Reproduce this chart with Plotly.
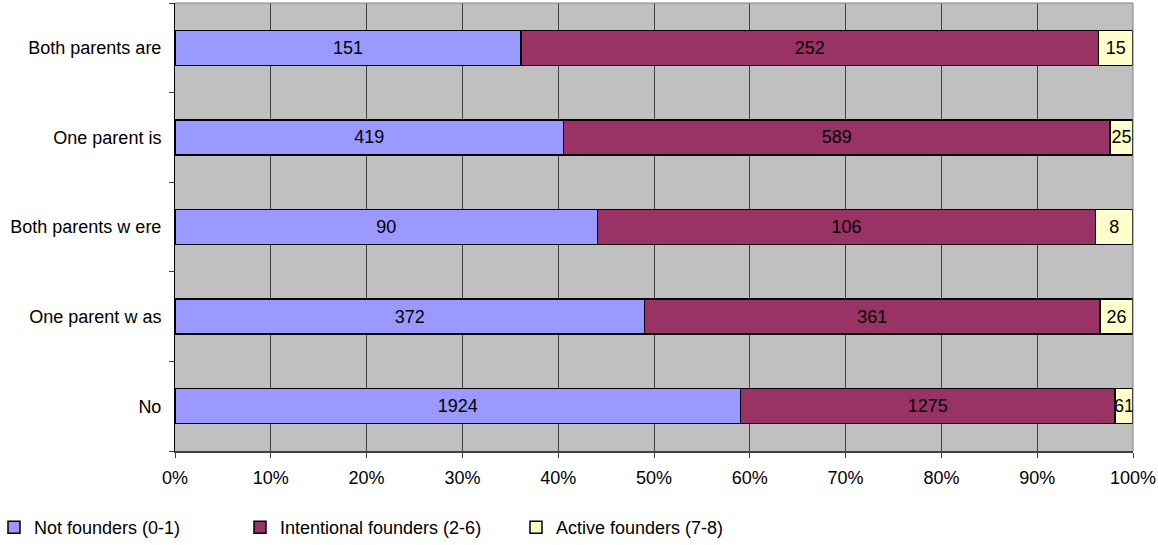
import plotly.graph_objects as go

# Parental founder status (bottom to top) and respondent counts per founder group
categories = ["No", "One parent w as", "Both parents w ere", "One parent is", "Both parents are"]
not_founders = [1924, 372, 90, 419, 151]
intentional_founders = [1275, 361, 106, 589, 252]
active_founders = [61, 26, 8, 25, 15]

series = [
    ("Not founders (0-1)", not_founders, "#9999FF"),
    ("Intentional founders (2-6)", intentional_founders, "#993366"),
    ("Active founders (7-8)", active_founders, "#FFFFCC"),
]

x_ticks = list(range(0, 101, 10))
x_tick_labels = [f"{v}%" for v in x_ticks]

font_family = "Liberation Sans, Arial, sans-serif"
FS = 18

# plot area spans pixels 175..1133 horizontally and 3..451 vertically
plot_left, plot_width = 175, 958
plot_bottom, plot_height = 451, 448
legend_px = [-6, 240, 516]
legend_top_px = 509
legend_names = ["legend", "legend2", "legend3"]

fig = go.Figure()
for (name, values, color), lg in zip(series, legend_names):
    fig.add_trace(go.Bar(
        name=name,
        y=categories,
        x=values,
        orientation="h",
        marker=dict(color=color, line=dict(color="#000000", width=1.5)),
        text=values,
        texttemplate="%{text}",
        textposition="inside",
        insidetextanchor="middle",
        textangle=0,
        textfont=dict(color="#000000", size=FS, family=font_family),
        constraintext="none",
        cliponaxis=False,
        width=0.39,
        legend=lg,
    ))

legend_common = dict(
    orientation="h",
    xanchor="left",
    y=-(legend_top_px - plot_bottom) / plot_height,
    yanchor="top",
    font=dict(size=FS, family=font_family),
    itemwidth=30,
    bgcolor="rgba(0,0,0,0)",
)
legends = {}
for lg, px in zip(legend_names, legend_px):
    legends[lg] = dict(legend_common, x=(px - plot_left) / plot_width)

fig.update_layout(
    width=1158,
    height=545,
    barmode="stack",
    barnorm="percent",
    paper_bgcolor="#FFFFFF",
    plot_bgcolor="#C0C0C0",
    margin=dict(l=175, r=25, t=3, b=94, autoexpand=False),
    font=dict(family=font_family, size=FS, color="#000000"),
    showlegend=True,
    **legends,
)

fig.update_xaxes(
    range=[0, 100],
    tickvals=x_ticks,
    ticktext=x_tick_labels,
    showgrid=True,
    gridcolor="#404040",
    gridwidth=1,
    zeroline=False,
    showline=True,
    linecolor="#404040",
    linewidth=1.5,
    ticks="outside",
    ticklen=5,
    tickcolor="#404040",
    tickfont=dict(size=FS),
    ticklabelstandoff=5,
    automargin=False,
)
fig.update_yaxes(
    categoryorder="array",
    categoryarray=categories,
    tickson="boundaries",
    showgrid=False,
    zeroline=False,
    showline=True,
    linecolor="#000000",
    linewidth=1,
    ticks="outside",
    ticklen=5,
    tickcolor="#404040",
    tickfont=dict(size=FS),
    ticklabelstandoff=9,
    automargin=False,
)

# light frame along the top and right edges of the plotting area
fig.add_shape(type="line", xref="paper", yref="paper", x0=1, x1=1, y0=0, y1=1,
              line=dict(color="#808080", width=1))
fig.add_shape(type="line", xref="paper", yref="paper", x0=0, x1=1, y0=1, y1=1,
              line=dict(color="#808080", width=1))

fig.write_html("out.html")
